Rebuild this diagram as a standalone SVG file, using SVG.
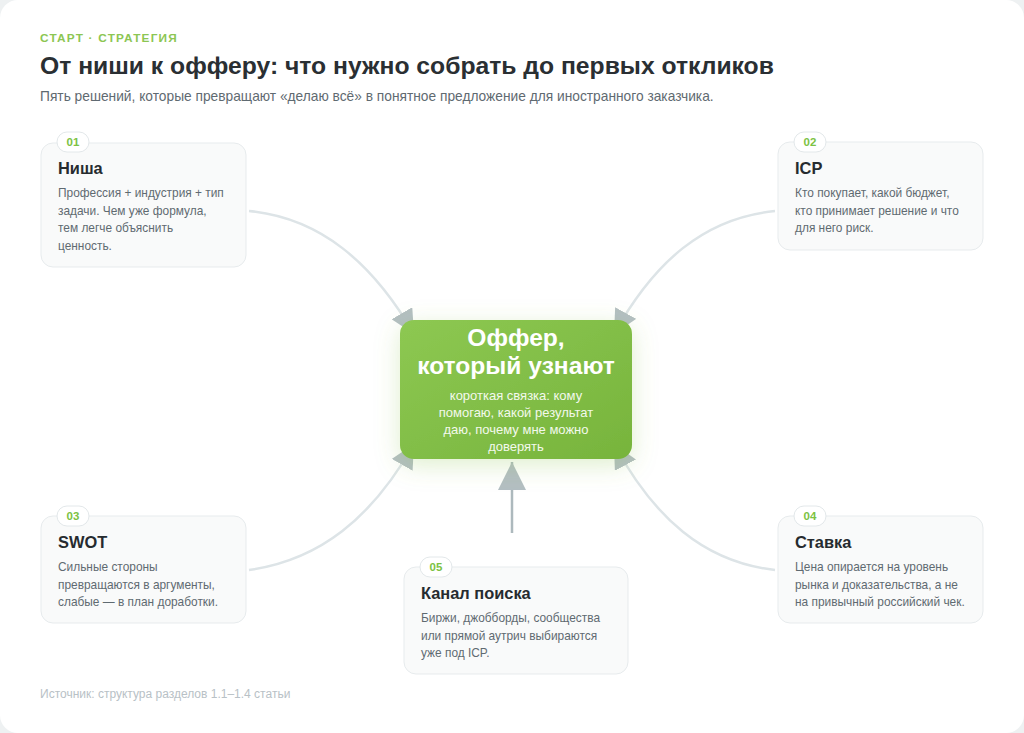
<svg xmlns="http://www.w3.org/2000/svg" width="1024" height="733" viewBox="0 0 1024 733">
<defs>
<style>
.ff{font-family:"Liberation Sans",Arial,sans-serif}
.card{fill:#f9fafa;stroke:#e7ebed;stroke-width:1}
.badge{fill:#ffffff;stroke:#e3e8ea;stroke-width:1}
.bt{font-family:"Liberation Sans",Arial,sans-serif;font-size:11.5px;font-weight:700;fill:#7cc243;text-anchor:middle}
.ct{font-family:"Liberation Sans",Arial,sans-serif;font-size:16.4px;font-weight:700;fill:#262b2f}
.cb{font-family:"Liberation Sans",Arial,sans-serif;font-size:11.9px;fill:#5f6a71}
.conn{fill:none;stroke:#dde4e7;stroke-width:2.5}
</style>
<marker id="ah" markerUnits="userSpaceOnUse" markerWidth="24" markerHeight="24" refX="22" refY="11" orient="auto" viewBox="0 0 22 22">
<path d="M0,0 L22,11 L0,22 z" fill="#b3bec2"/>
</marker>
<marker id="ah5" markerUnits="userSpaceOnUse" markerWidth="28" markerHeight="28" refX="26" refY="13" orient="auto" viewBox="0 0 26 26">
<path d="M0,0 L26,13 L0,26 z" fill="#b3bec2"/>
</marker>
<linearGradient id="g" x1="0" y1="0" x2="1" y2="1">
<stop offset="0" stop-color="#8dc852"/>
<stop offset="1" stop-color="#77b43c"/>
</linearGradient>
<filter id="glow" x="-30%" y="-30%" width="160%" height="160%">
<feDropShadow dx="0" dy="6" stdDeviation="12" flood-color="#8bc34a" flood-opacity="0.28"/>
</filter>
</defs>
<rect x="0" y="0" width="1024" height="733" fill="#eef1f2"/>
<rect x="0" y="0" width="1024" height="733" rx="18" fill="#ffffff"/>

<g id="header">
<text class="ff" x="40" y="42" font-size="11.8" font-weight="700" letter-spacing="1.2" fill="#8cc653">СТАРТ · СТРАТЕГИЯ</text>
<text class="ff" x="40" y="74" font-size="24.7" font-weight="700" fill="#2a2f33">От ниши к офферу: что нужно собрать до первых откликов</text>
<text class="ff" x="40" y="101" font-size="13.75" fill="#5f6a71">Пять решений, которые превращают «делаю всё» в понятное предложение для иностранного заказчика.</text>
</g>

<g id="connectors">
<path class="conn" d="M249,211 C320,218 372,262 414,334" marker-end="url(#ah)"/>
<path class="conn" d="M775,211 C704,218 654,262 614,334" marker-end="url(#ah)"/>
<path class="conn" d="M249,570 C320,560 372,518 414,444" marker-end="url(#ah)"/>
<path class="conn" d="M775,570 C704,562 654,518 614,444" marker-end="url(#ah)"/>
<path d="M512,533 L512,462" fill="none" stroke="#adb9bd" stroke-width="2.5" marker-end="url(#ah5)"/>
</g>

<g id="center">
<rect x="400" y="320" width="232" height="139" rx="14" fill="url(#g)" filter="url(#glow)"/>
<text class="ff" x="516" y="346" font-size="24.6" font-weight="700" fill="#ffffff" text-anchor="middle">Оффер,</text>
<text class="ff" x="516" y="374" font-size="24.6" font-weight="700" fill="#ffffff" text-anchor="middle">который узнают</text>
<g class="ff" font-size="13" fill="#f3f9ec" text-anchor="middle">
<text x="516" y="400">короткая связка: кому</text>
<text x="516" y="417">помогаю, какой результат</text>
<text x="516" y="434">даю, почему мне можно</text>
<text x="516" y="451">доверять</text>
</g>
</g>

<g id="node-01">
<rect class="card" x="41" y="143" width="205" height="124" rx="12"/>
<rect class="badge" x="57" y="132" width="32" height="20" rx="10"/>
<text class="bt" x="73" y="146">01</text>
<text class="ct" x="58" y="174">Ниша</text>
<text class="cb" x="58" y="197">Профессия + индустрия + тип</text>
<text class="cb" x="58" y="214.5">задачи. Чем уже формула,</text>
<text class="cb" x="58" y="232">тем легче объяснить</text>
<text class="cb" x="58" y="249.5">ценность.</text>
</g>

<g id="node-02">
<rect class="card" x="778" y="142" width="205" height="108" rx="12"/>
<rect class="badge" x="794" y="132" width="32" height="20" rx="10"/>
<text class="bt" x="810" y="146">02</text>
<text class="ct" x="795" y="174">ICP</text>
<text class="cb" x="795" y="197">Кто покупает, какой бюджет,</text>
<text class="cb" x="795" y="214.5">кто принимает решение и что</text>
<text class="cb" x="795" y="232">для него риск.</text>
</g>

<g id="node-03">
<rect class="card" x="41" y="516" width="205" height="107" rx="12"/>
<rect class="badge" x="57" y="506" width="32" height="20" rx="10"/>
<text class="bt" x="73" y="520">03</text>
<text class="ct" x="58" y="548">SWOT</text>
<text class="cb" x="58" y="571">Сильные стороны</text>
<text class="cb" x="58" y="588.5">превращаются в аргументы,</text>
<text class="cb" x="58" y="606">слабые — в план доработки.</text>
</g>

<g id="node-04">
<rect class="card" x="778" y="516" width="205" height="107" rx="12"/>
<rect class="badge" x="794" y="506" width="32" height="20" rx="10"/>
<text class="bt" x="810" y="520">04</text>
<text class="ct" x="795" y="548">Ставка</text>
<text class="cb" x="795" y="571">Цена опирается на уровень</text>
<text class="cb" x="795" y="588.5">рынка и доказательства, а не</text>
<text class="cb" x="795" y="606">на привычный российский чек.</text>
</g>

<g id="node-05">
<rect class="card" x="404" y="567" width="224" height="107" rx="12"/>
<rect class="badge" x="420" y="557" width="32" height="20" rx="10"/>
<text class="bt" x="436" y="571">05</text>
<text class="ct" x="421" y="599">Канал поиска</text>
<text class="cb" x="421" y="622">Биржи, джобборды, сообщества</text>
<text class="cb" x="421" y="639.5">или прямой аутрич выбираются</text>
<text class="cb" x="421" y="657">уже под ICP.</text>
</g>

<text class="ff" x="40" y="698" font-size="12" fill="#b8c1c6">Источник: структура разделов 1.1–1.4 статьи</text>
</svg>
